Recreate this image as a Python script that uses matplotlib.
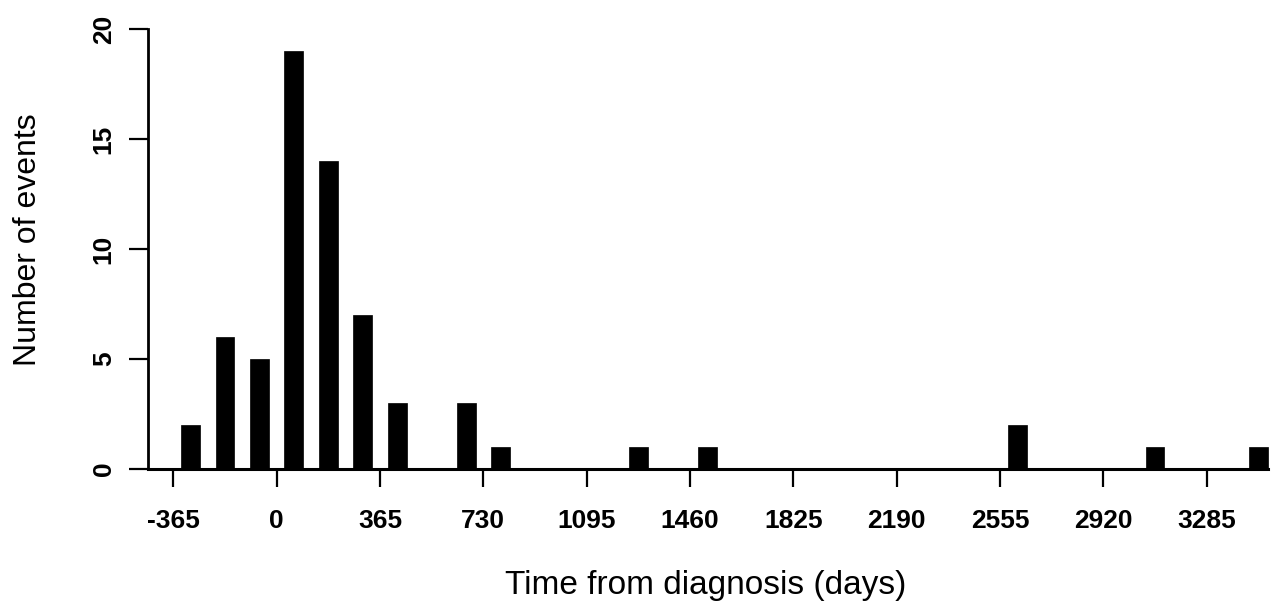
import numpy as np
import matplotlib
matplotlib.use("Agg")
import matplotlib.pyplot as plt

plt.rcParams['font.family'] = ['Liberation Sans', 'DejaVu Sans']

# histogram bins are a third of a year wide; bin k covers [k*w, (k+1)*w)
bin_width = 365 / 3
bin_index = [-3, -2, -1, 0, 1, 2, 3, 5, 6, 10, 12, 21, 25, 28]
counts = [2, 6, 5, 19, 14, 7, 3, 3, 1, 1, 1, 2, 1, 1]
xticks = [-365, 0, 365, 730, 1095, 1460, 1825, 2190, 2555, 2920, 3285]
yticks = [0, 5, 10, 15, 20]

centers = (np.array(bin_index) + 0.5) * bin_width
bar_w = 0.55 * bin_width

fig = plt.figure(figsize=(12.8, 6.16), dpi=100)
ax = fig.add_axes([0.1160, 0.2386, 0.8840, 0.7143])

ax.bar(centers, counts, width=bar_w, color='black', edgecolor='black', linewidth=0.5)

x_left, x_right = -452.8, 3544
ax.set_xlim(x_left, x_right)
ax.set_ylim(0, 20)

for s in ['top', 'right']:
    ax.spines[s].set_visible(False)
ax.spines['left'].set_bounds(0, 20)
ax.spines['bottom'].set_bounds(x_left, centers[-1] + bar_w / 2)
ax.spines['left'].set_linewidth(2.0)
ax.spines['bottom'].set_linewidth(2.2)

ax.set_xticks(xticks)
ax.set_xticklabels([str(t) for t in xticks], fontsize=19, fontweight='bold')
ax.set_yticks(yticks)
ax.set_yticklabels([str(t) for t in yticks], fontsize=19, fontweight='bold',
                   rotation=90, va='center')
ax.tick_params(axis='x', length=13, width=1.6, pad=16)
ax.tick_params(axis='y', length=13.5, width=1.6, pad=10)

ax.set_xlabel('Time from diagnosis (days)', fontsize=24)
ax.xaxis.set_label_coords(0.4925, -0.2636)
ax.xaxis.label.set_va('center')
ax.set_ylabel('Number of events', fontsize=23)
ax.yaxis.set_label_coords(-0.1061, 0.5205)
ax.yaxis.label.set_va('center')

fig.savefig('out.png', dpi=100)
